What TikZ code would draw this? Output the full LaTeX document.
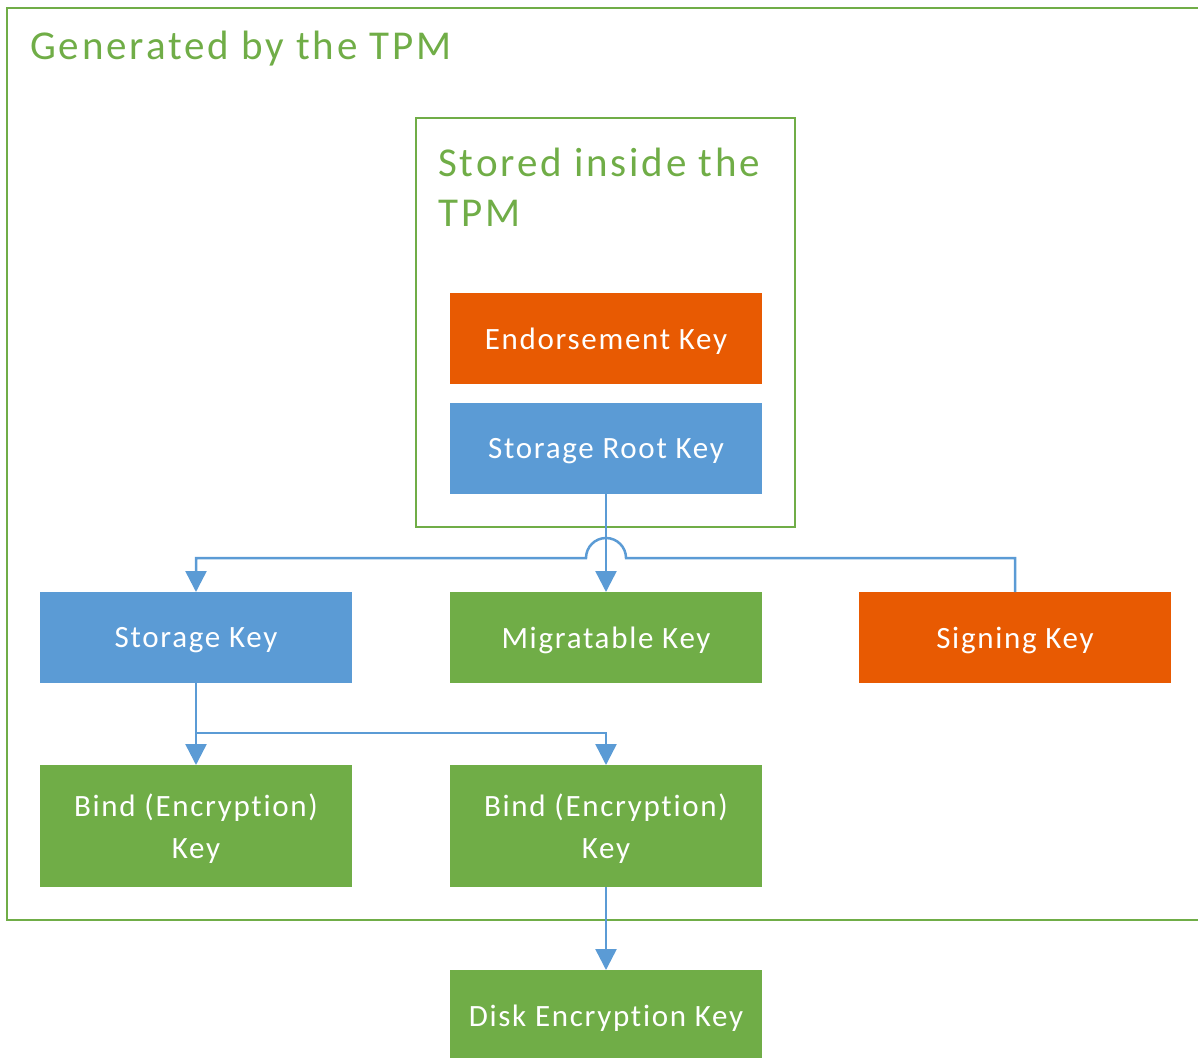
\documentclass[tikz,border=0pt]{standalone}
\usepackage{fontspec}
\setmainfont{Carlito}
\newfontfamily\keyfont{Carlito}[LetterSpace=5.5, Ligatures=CommonOff]
\newfontfamily\headfont{Carlito}[LetterSpace=7, Ligatures=CommonOff]
\usetikzlibrary{arrows.meta, positioning}

\definecolor{tpmgreen}{HTML}{70AD47}
\definecolor{tpmblue}{HTML}{5B9BD5}
\definecolor{tpmorange}{HTML}{E85A02}

\begin{document}
\begin{tikzpicture}[x=1pt, y=1pt,
        key/.style={minimum width=312pt, minimum height=91pt, inner sep=0pt, outer sep=0pt, text depth=0pt, text=white, align=center, font=\keyfont\fontsize{31}{42}\selectfont},
        frame/.style={draw=tpmgreen, line width=2.8pt},
        heading/.style={text=tpmgreen, inner sep=0pt, align=left, font=\headfont\fontsize{41}{50}\selectfont},
        link/.style={draw=tpmblue, line width=2.5pt},
        arrow/.style={link, -{Triangle[width=21pt, length=21pt]}}
    ]
    \useasboundingbox (0,0) rectangle (1198,-1057);

    % Generated by the TPM
    \draw[frame] (7,-8) rectangle (1230,-920);
    \node[heading, anchor=west] (generated) at (30,-49) {Generated by the TPM};

    % Stored inside the TPM
    \draw[frame] (416,-118) rectangle (795,-527);
    \node[heading, anchor=north west] (stored) at (438,-148) {Stored inside the\\TPM};

    \node[key, fill=tpmblue] (srk) at (606,-448.5) {Storage Root Key};
    \node[key, fill=tpmorange, above=19pt of srk] (ek) {Endorsement Key};

    % Second row
    \node[key, fill=tpmgreen, below=98pt of srk] (migratable) {Migratable Key};
    \node[key, fill=tpmblue, left=98pt of migratable] (storage) {Storage Key};
    \node[key, fill=tpmorange, right=97pt of migratable] (signing) {Signing Key};

    % Third row
    \node[key, fill=tpmgreen, minimum height=122pt, below=82pt of storage] (bindA) {Bind (Encryption)\\Key};
    \node[key, fill=tpmgreen, minimum height=122pt, below=82pt of migratable] (bindB) {Bind (Encryption)\\Key};

    % Outside the TPM
    \node[key, fill=tpmgreen, below=83pt of bindB] (disk) {Disk Encryption Key};

    % Arrows
    \coordinate (hop) at (626,-558);
    \draw[arrow] (srk) -- (migratable);
    \draw[arrow] (signing.north) |- (hop) arc[start angle=0, end angle=180, radius=20pt] -| (storage.north);
    \draw[arrow] (storage) -- (bindA);
    \draw[arrow] (storage.south) ++(0,-50pt) -| (bindB.north);
    \draw[arrow] (bindB) -- (disk);

\end{tikzpicture}
\end{document}
